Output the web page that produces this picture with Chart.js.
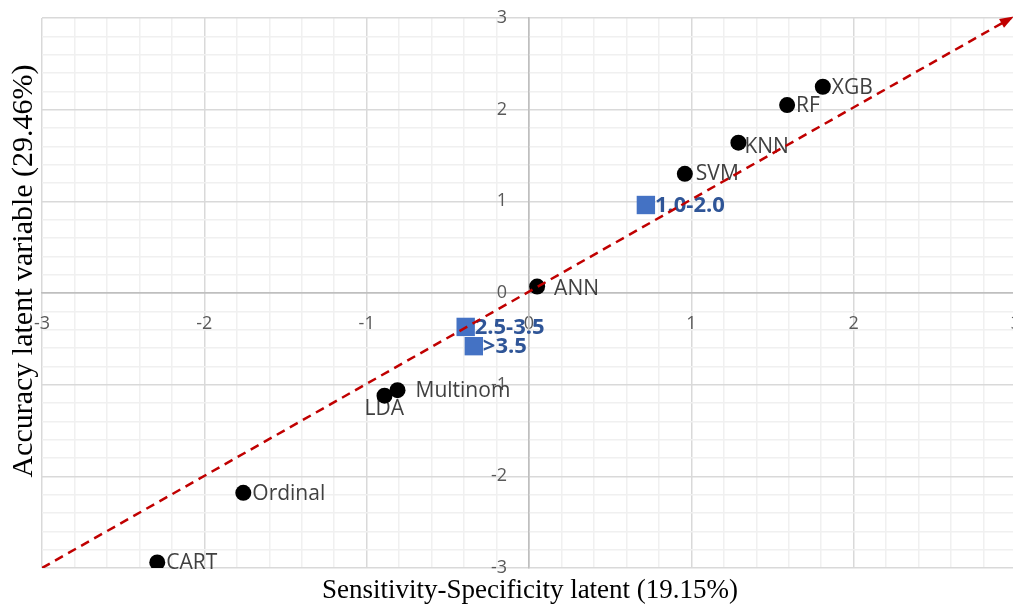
<!DOCTYPE html>
<html>
<head>
<meta charset="utf-8">
<script src="https://cdn.jsdelivr.net/npm/chart.js@4.4.1/dist/chart.umd.min.js"></script>
<style>
  html, body { margin: 0; padding: 0; background: #fff; overflow: hidden; }
  #wrap { position: relative; width: 1020px; height: 608px; }
</style>
</head>
<body>
<div id="wrap"><canvas id="chart" width="1020" height="608"></canvas></div>
<script>
// models (black circles)
const modelNames = ["XGB", "RF", "KNN", "SVM", "ANN", "Multinom", "LDA", "Ordinal", "CART"];
const modelX = [1.81, 1.59, 1.29, 0.96, 0.05, -0.81, -0.89, -1.76, -2.29];
const modelY = [2.25, 2.05, 1.64, 1.30, 0.07, -1.06, -1.12, -2.18, -2.94];

// groups (blue squares)
const groupNames = ["1.0-2.0", "2.5-3.5", ">3.5"];
const groupX = [0.72, -0.39, -0.34];
const groupY = [0.96, -0.37, -0.58];

// dashed reference line
const refLineX = [-3, 2.97];
const refLineY = [-3, 3];

const axisTicks = [-3, -2, -1, 0, 1, 2, 3];
const xTitle = "Sensitivity-Specificity latent (19.15%)";
const yTitle = "Accuracy latent variable (29.46%)";

// label placement tweaks (style only)
const labelShift = {
  ANN: [17, 2],
  Multinom: [18, 1],
  KNN: [6, 4],
  SVM: [11, 0],
  LDA: [-20, 13]
};

function toPoints(xs, ys) {
  return xs.map((x, i) => ({ x: x, y: ys[i] }));
}

function isMajor(v) {
  return axisTicks.some(t => Math.abs(t - v) < 1e-6);
}

function gridColor(ctx) {
  const v = ctx.tick.value;
  if (Math.abs(v) < 1e-6) return "#bfbfbf";
  return isMajor(v) ? "#d9d9d9" : "#f0f0f0";
}

function noPadding(scale) {
  scale.paddingTop = 0;
  scale.paddingBottom = 0;
  scale.paddingLeft = 0;
  scale.paddingRight = 0;
}

const labelPlugin = {
  id: "pointLabels",
  beforeDatasetsDraw(chart) {
    const ctx = chart.ctx;
    // y tick labels, left of the vertical axis
    const xs = chart.scales.x, ys = chart.scales.y;
    const x0 = xs.getPixelForValue(0);
    ctx.save();
    ctx.font = "18px 'Open Sans'";
    ctx.fillStyle = "#595959";
    ctx.textAlign = "right";
    ctx.textBaseline = "middle";
    axisTicks.forEach(t => ctx.fillText(String(t), x0 - 22, ys.getPixelForValue(t)));
    ctx.restore();

    chart.data.datasets.forEach((ds, di) => {
      if (!ds.pointNames) return;
      const meta = chart.getDatasetMeta(di);
      ctx.save();
      ctx.font = ds.labelFont;
      ctx.fillStyle = ds.labelColor;
      ctx.textAlign = "left";
      ctx.textBaseline = "middle";
      meta.data.forEach((pt, i) => {
        const name = ds.pointNames[i];
        const shift = labelShift[name] || [9, 1];
        ctx.fillText(name, pt.x + shift[0], pt.y + shift[1]);
      });
      ctx.restore();
    });
  },
  afterDatasetsDraw(chart) {
    // arrow head at end of the reference line
    const ctx = chart.ctx;
    const xs = chart.scales.x, ys = chart.scales.y;
    const x1 = xs.getPixelForValue(refLineX[0]), y1 = ys.getPixelForValue(refLineY[0]);
    const x2 = xs.getPixelForValue(refLineX[1]), y2 = ys.getPixelForValue(refLineY[1]);
    const a = Math.atan2(y2 - y1, x2 - x1);
    const len = 11, w = 5;
    ctx.save();
    ctx.fillStyle = "#c00000";
    ctx.beginPath();
    ctx.moveTo(x2 + Math.cos(a) * 3, y2 + Math.sin(a) * 3);
    ctx.lineTo(x2 - Math.cos(a) * len - Math.sin(a) * w, y2 - Math.sin(a) * len + Math.cos(a) * w);
    ctx.lineTo(x2 - Math.cos(a) * len + Math.sin(a) * w, y2 - Math.sin(a) * len - Math.cos(a) * w);
    ctx.closePath();
    ctx.fill();
    ctx.restore();
  },
  afterDraw(chart) {
    const ctx = chart.ctx;
    ctx.save();
    ctx.fillStyle = "#000";
    ctx.textAlign = "center";
    ctx.textBaseline = "middle";
    ctx.font = "27px 'Liberation Serif', serif";
    ctx.fillText(xTitle, 530, 591);
    ctx.font = "30px 'Liberation Serif', serif";
    ctx.translate(24, 271);
    ctx.rotate(-Math.PI / 2);
    ctx.fillText(yTitle, 0, 0);
    ctx.restore();
  }
};

new Chart(document.getElementById("chart"), {
  type: "scatter",
  data: {
    datasets: [
      {
        type: "line",
        data: toPoints(refLineX, refLineY),
        borderColor: "#c00000",
        borderWidth: 2.5,
        borderDash: [9, 6],
        pointRadius: 0,
        fill: false
      },
      {
        data: toPoints(groupX, groupY),
        pointNames: groupNames,
        labelFont: "bold 22px 'Open Sans'",
        labelColor: "#2f5597",
        pointStyle: "rect",
        pointRadius: 13,
        pointHoverRadius: 13,
        backgroundColor: "#4472c4",
        borderColor: "#4472c4",
        borderWidth: 0
      },
      {
        data: toPoints(modelX, modelY),
        pointNames: modelNames,
        labelFont: "21px 'Open Sans'",
        labelColor: "#404040",
        pointStyle: "circle",
        pointRadius: 8,
        pointHoverRadius: 8,
        backgroundColor: "#000",
        borderColor: "#000",
        borderWidth: 0
      }
    ]
  },
  options: {
    responsive: false,
    animation: false,
    layout: { autoPadding: false, padding: { left: 42, top: 18, right: 4, bottom: 40 } },
    plugins: { legend: { display: false }, tooltip: { enabled: false } },
    scales: {
      x: {
        type: "linear",
        min: -3,
        max: 3,
        position: { y: 0 },
        afterFit: noPadding,
        border: { color: "#bfbfbf", width: 1.5 },
        grid: { color: gridColor, lineWidth: 1.5, drawTicks: false },
        ticks: {
          stepSize: 0.2,
          autoSkip: false,
          maxRotation: 0,
          padding: 20,
          color: "#595959",
          font: { family: "'Open Sans'", size: 18 },
          callback: v => isMajor(v) ? String(Math.round(v)) : ""
        }
      },
      y: {
        type: "linear",
        min: -3,
        max: 3,
        position: { x: 0 },
        afterFit: noPadding,
        border: { color: "#bfbfbf", width: 1.5 },
        grid: { color: gridColor, lineWidth: 1.5, drawTicks: false },
        ticks: {
          stepSize: 0.2,
          autoSkip: false,
          display: false
        }
      }
    }
  },
  plugins: [labelPlugin]
});
</script>
</body>
</html>
